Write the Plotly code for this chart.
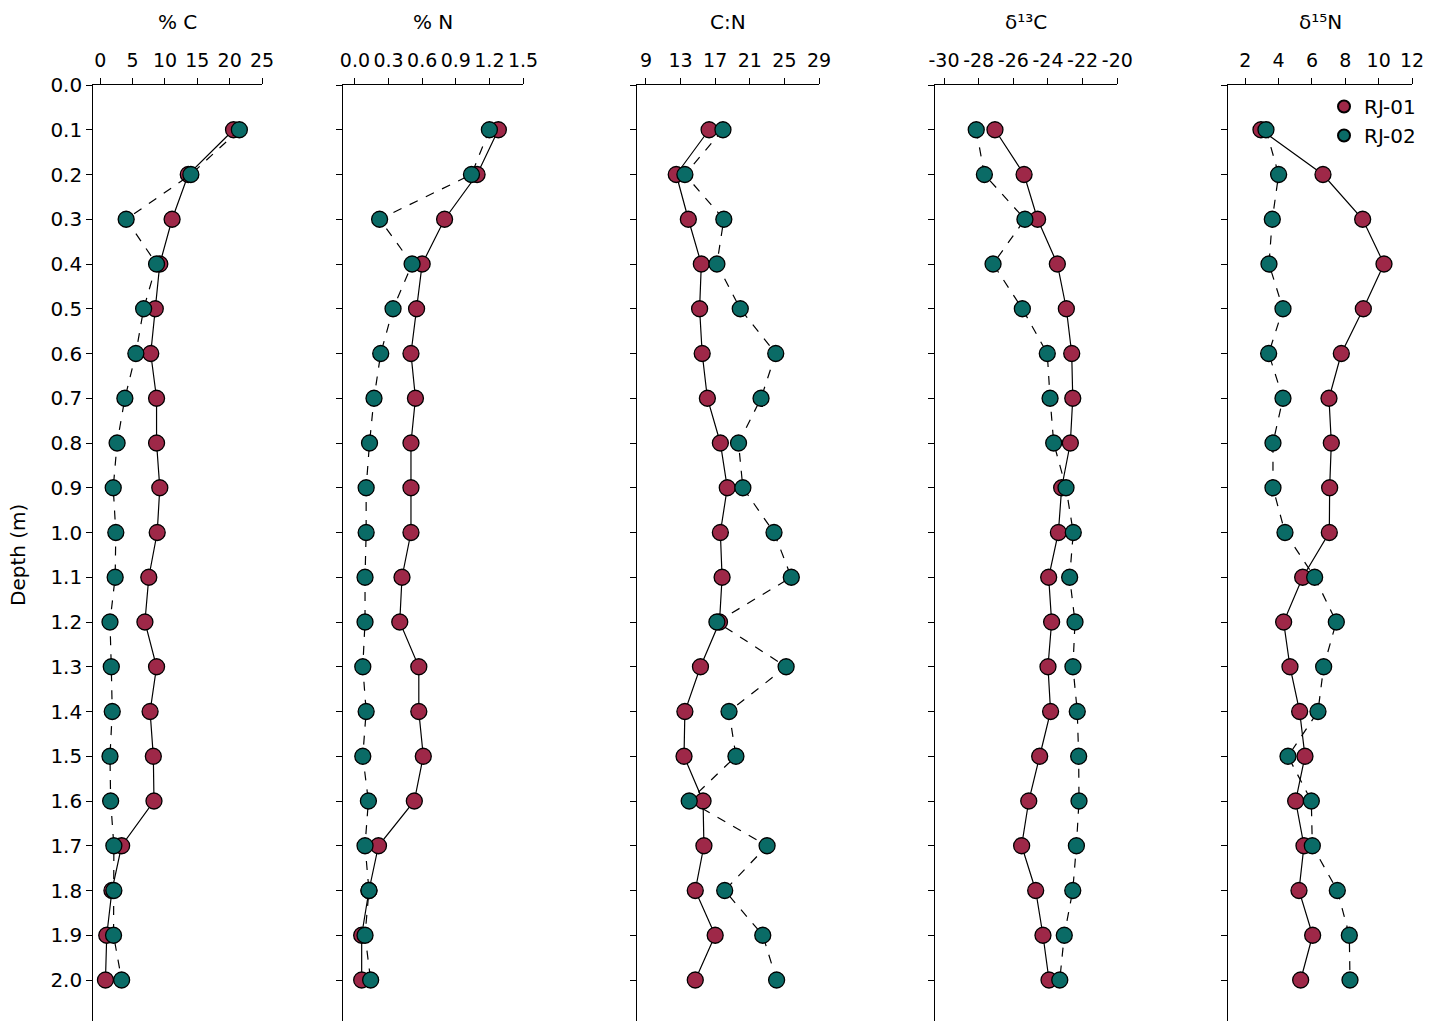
import plotly.graph_objects as go

depth = [0.1, 0.2, 0.3, 0.4, 0.5, 0.6, 0.7, 0.8, 0.9, 1.0,
         1.1, 1.2, 1.3, 1.4, 1.5, 1.6, 1.7, 1.8, 1.9, 2.0]

c_rj01 = [20.6, 13.6, 11.1, 9.2, 8.5, 7.8, 8.7, 8.7, 9.2, 8.8,
          7.5, 6.9, 8.7, 7.7, 8.2, 8.3, 3.3, 1.8, 1.0, 0.8]
c_rj02 = [21.5, 14.0, 4.0, 8.7, 6.7, 5.5, 3.8, 2.6, 2.0, 2.4,
          2.3, 1.5, 1.7, 1.85, 1.5, 1.6, 2.1, 2.1, 2.05, 3.3]

n_rj01 = [1.28, 1.09, 0.80, 0.60, 0.55, 0.50, 0.54, 0.50, 0.50, 0.50,
          0.42, 0.40, 0.57, 0.57, 0.61, 0.53, 0.21, 0.125, 0.06, 0.06]
n_rj02 = [1.20, 1.04, 0.22, 0.51, 0.34, 0.23, 0.17, 0.13, 0.10, 0.10,
          0.09, 0.09, 0.07, 0.10, 0.07, 0.12, 0.09, 0.125, 0.09, 0.14]

cn_rj01 = [16.3, 12.5, 13.9, 15.4, 15.2, 15.5, 16.1, 17.6, 18.4, 17.6,
           17.8, 17.5, 15.3, 13.5, 13.4, 15.6, 15.7, 14.7, 17.0, 14.7]
cn_rj02 = [17.9, 13.5, 18.0, 17.2, 19.9, 24.0, 22.3, 19.7, 20.2, 23.8,
           25.8, 17.2, 25.2, 18.6, 19.4, 14.0, 23.0, 18.1, 22.5, 24.1]

d13c_rj01 = [-27.06, -25.38, -24.60, -23.46, -22.94, -22.63, -22.57, -22.71, -23.21, -23.40,
             -23.96, -23.79, -24.00, -23.85, -24.48, -25.11, -25.52, -24.71, -24.29, -23.94]
d13c_rj02 = [-28.14, -27.67, -25.33, -27.17, -25.48, -24.04, -23.88, -23.67, -22.96, -22.54,
             -22.75, -22.44, -22.56, -22.31, -22.23, -22.21, -22.36, -22.57, -23.06, -23.32]

d15n_rj01 = [2.94, 6.66, 9.04, 10.32, 9.08, 7.76, 7.02, 7.16, 7.06, 7.04,
             5.44, 4.30, 4.68, 5.26, 5.58, 5.02, 5.52, 5.22, 6.04, 5.32]
d15n_rj02 = [3.24, 4.00, 3.62, 3.42, 4.26, 3.40, 4.26, 3.66, 3.66, 4.38,
             6.16, 7.46, 6.70, 6.36, 4.56, 5.96, 6.02, 7.52, 8.24, 8.28]

titles = ["% C", "% N", "C:N", "δ¹³C", "δ¹⁵N"]
series = [(c_rj01, c_rj02), (n_rj01, n_rj02), (cn_rj01, cn_rj02),
          (d13c_rj01, d13c_rj02), (d15n_rj01, d15n_rj02)]
xticks = [[0, 5, 10, 15, 20, 25],
          [0.0, 0.3, 0.6, 0.9, 1.2, 1.5],
          [9, 13, 17, 21, 25, 29],
          [-30, -28, -26, -24, -22, -20],
          [2, 4, 6, 8, 10, 12]]
xticktext = [["0", "5", "10", "15", "20", "25"],
             ["0.0", "0.3", "0.6", "0.9", "1.2", "1.5"],
             ["9", "13", "17", "21", "25", "29"],
             ["-30", "-28", "-26", "-24", "-22", "-20"],
             ["2", "4", "6", "8", "10", "12"]]
yticks = [0.0, 0.1, 0.2, 0.3, 0.4, 0.5, 0.6, 0.7, 0.8, 0.9, 1.0,
          1.1, 1.2, 1.3, 1.4, 1.5, 1.6, 1.7, 1.8, 1.9, 2.0]
names = ["RJ-01", "RJ-02"]

W, H = 1440, 1021
T, B = 85, 0
PH = H - T - B

xranges = [[-1.08, 25], [-0.104, 1.5], [8.0, 29], [-30.52, -20], [0.98, 12]]
xpix = [(93.3, 262), (343.3, 523), (637.3, 819), (935, 1117.3), (1228.3, 1412)]

RED = "#9E2848"
TEAL = "#0A6B66"
colors = [RED, TEAL]
dashes = ["solid", "dash"]
FONT = "DejaVu Sans"
FS = 20
XFS = 19

fig = go.Figure()
for i in range(5):
    xa = "x" if i == 0 else f"x{i+1}"
    ya = "y" if i == 0 else f"y{i+1}"
    for j in range(2):
        fig.add_trace(go.Scatter(
            x=series[i][j], y=depth, xaxis=xa, yaxis=ya, mode="lines",
            line=dict(color="black", width=1.2, dash=dashes[j]),
            showlegend=False, hoverinfo="skip"))
        fig.add_trace(go.Scatter(
            x=series[i][j], y=depth, xaxis=xa, yaxis=ya, mode="markers",
            marker=dict(color=colors[j], size=16, line=dict(color="black", width=1.3)),
            name=names[j], showlegend=(i == 4)))

layout = dict(
    width=W, height=H,
    margin=dict(l=0, r=0, t=T, b=B, autoexpand=False),
    paper_bgcolor="white", plot_bgcolor="white",
    font=dict(family=FONT, size=FS, color="black"),
    showlegend=True,
    legend=dict(x=1324 / W, y=(H - 87) / PH, xanchor="left", yanchor="top",
                bgcolor="rgba(0,0,0,0)", font=dict(size=FS), itemsizing="constant",
                tracegroupgap=0),
)
annotations = []
for i in range(5):
    key = "" if i == 0 else str(i + 1)
    x0, x1 = xpix[i]
    layout["xaxis" + key] = dict(
        domain=[x0 / W, x1 / W], range=xranges[i], side="top",
        anchor="y" + key, showgrid=False, zeroline=False, automargin=False,
        showline=True, linecolor="black", linewidth=1.2,
        ticks="outside", ticklen=6, tickwidth=1.2, tickcolor="black",
        tickvals=xticks[i], ticktext=xticktext[i], tickangle=0,
        ticklabelstandoff=3,
        tickfont=dict(size=XFS), fixedrange=True)
    layout["yaxis" + key] = dict(
        domain=[0, 1], range=[(H - T) / 447.5, 0],
        anchor="x" + key, showgrid=False, zeroline=False, automargin=False,
        showline=True, linecolor="black", linewidth=1.2,
        ticks="outside", ticklen=6, tickwidth=1.2, tickcolor="black",
        tickvals=yticks, tickformat=".1f", showticklabels=(i == 0),
        tickfont=dict(size=FS), fixedrange=True)
    annotations.append(dict(
        text=titles[i], xref=f"x{key} domain" if key else "x domain", x=0.5,
        yref="paper", y=(H - 22) / PH, xanchor="center", yanchor="middle",
        showarrow=False, font=dict(size=FS)))
annotations.append(dict(
    text="Depth (m)", xref="paper", yref="paper", x=18 / W, y=(H - 555) / PH,
    xanchor="center", yanchor="middle", textangle=-90, showarrow=False,
    font=dict(size=FS)))
layout["annotations"] = annotations
fig.update_layout(**layout)
fig.write_html("out.html", config={"displayModeBar": False},
               post_script="document.body.style.margin='0';document.body.style.padding='0';")
